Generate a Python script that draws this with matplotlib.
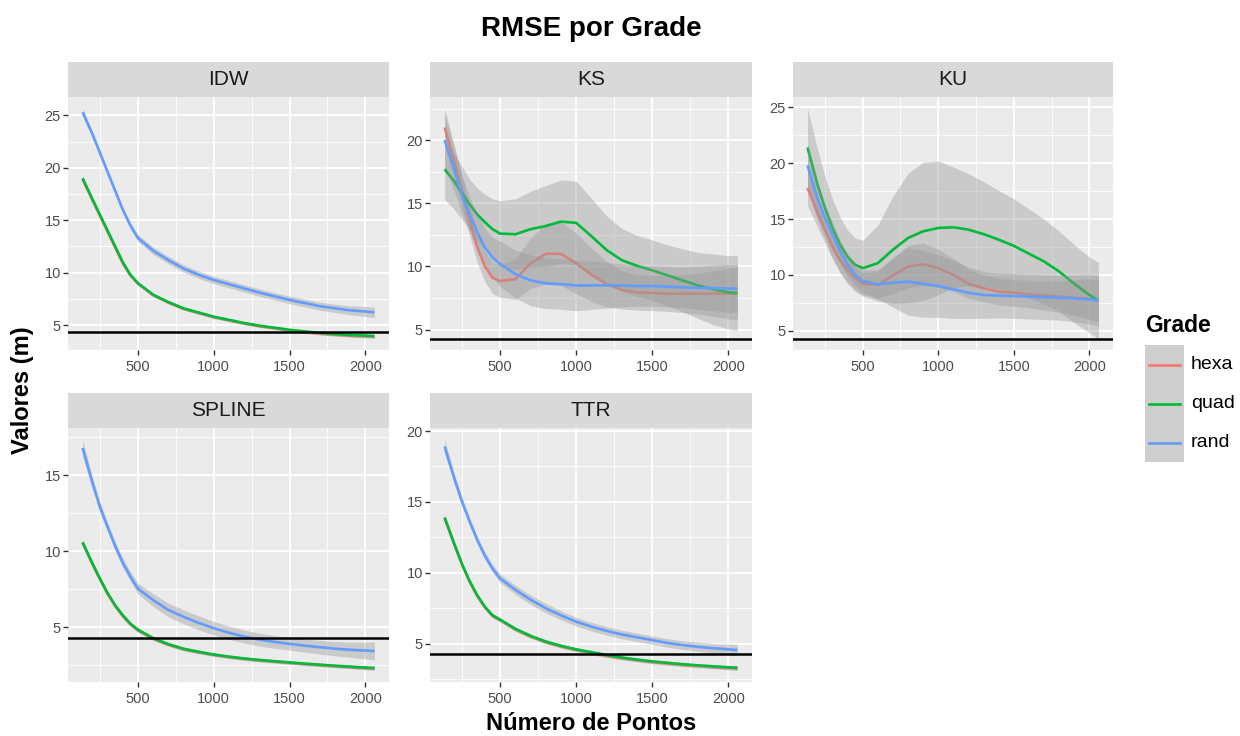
import matplotlib

matplotlib.use("Agg")
import matplotlib.pyplot as plt
from matplotlib.lines import Line2D
from matplotlib.patches import Rectangle
from matplotlib.ticker import MultipleLocator

plt.rcParams["font.family"] = ["Liberation Sans", "DejaVu Sans"]

# number of points (x) where the smoothed curves were read
n_points = [135, 200, 250, 300, 350, 400, 450, 500, 600, 700, 800, 900, 1000,
            1100, 1200, 1300, 1400, 1500, 1600, 1700, 1800, 1900, 2000, 2060]

grades = ["hexa", "quad", "rand"]
grade_colors = ["#F8766D", "#00BA38", "#619CFF"]
reference_rmse = 4.3

# IDW
idw_hexa = [18.9, 16.9, 15.4, 13.9, 12.4, 10.9, 9.75, 8.95, 7.85, 7.15, 6.55, 6.15,
            5.75, 5.45, 5.15, 4.9, 4.7, 4.5, 4.33, 4.18, 4.07, 3.98, 3.92, 3.88]
idw_quad = [19.0, 17.0, 15.5, 14.0, 12.5, 11.0, 9.8, 9.0, 7.9, 7.2, 6.6, 6.2,
            5.8, 5.5, 5.2, 4.95, 4.75, 4.55, 4.4, 4.25, 4.15, 4.05, 4.0, 3.95]
idw_rand = [25.3, 23.2, 21.4, 19.6, 17.8, 16.0, 14.5, 13.3, 12.1, 11.2, 10.4, 9.8,
            9.3, 8.9, 8.5, 8.1, 7.75, 7.4, 7.1, 6.8, 6.6, 6.4, 6.3, 6.2]
idw_hexa_se = [0.25, 0.2, 0.18, 0.16, 0.15, 0.14, 0.13, 0.12, 0.12, 0.12, 0.12, 0.12,
               0.12, 0.12, 0.12, 0.12, 0.12, 0.12, 0.12, 0.12, 0.13, 0.14, 0.15, 0.16]
idw_quad_se = [0.25, 0.2, 0.18, 0.16, 0.15, 0.14, 0.13, 0.12, 0.12, 0.12, 0.12, 0.12,
               0.12, 0.12, 0.12, 0.12, 0.12, 0.12, 0.12, 0.12, 0.13, 0.14, 0.15, 0.16]
idw_rand_se = [0.35, 0.3, 0.28, 0.26, 0.25, 0.25, 0.28, 0.32, 0.34, 0.35, 0.35, 0.35,
               0.35, 0.35, 0.35, 0.35, 0.35, 0.36, 0.37, 0.38, 0.4, 0.43, 0.47, 0.52]

# KS
ks_hexa = [21.0, 18.2, 15.9, 13.6, 11.5, 10.0, 9.1, 8.85, 9.0, 10.25, 11.0, 11.0,
           10.25, 9.35, 8.6, 8.15, 7.95, 7.9, 7.85, 7.85, 7.85, 7.85, 7.85, 7.85]
ks_quad = [17.7, 16.7, 15.8, 14.9, 14.1, 13.5, 12.95, 12.6, 12.55, 12.95, 13.2, 13.55,
           13.45, 12.4, 11.3, 10.5, 10.05, 9.7, 9.3, 8.9, 8.5, 8.2, 7.95, 7.9]
ks_rand = [20.0, 17.6, 15.6, 14.1, 12.7, 11.5, 10.7, 10.2, 9.4, 8.9, 8.67, 8.6,
           8.5, 8.5, 8.5, 8.5, 8.45, 8.45, 8.4, 8.35, 8.3, 8.3, 8.25, 8.25]
ks_hexa_se = [1.5, 1.3, 1.25, 1.2, 1.2, 1.2, 1.25, 1.3, 1.6, 2.0, 2.4, 2.5,
              2.4, 2.1, 1.8, 1.5, 1.4, 1.4, 1.4, 1.5, 1.6, 1.8, 2.0, 2.1]
ks_quad_se = [2.4, 2.2, 2.1, 2.0, 2.1, 2.2, 2.4, 2.6, 2.8, 3.0, 3.2, 3.3,
              3.3, 3.0, 2.7, 2.5, 2.4, 2.4, 2.4, 2.5, 2.6, 2.8, 2.9, 3.0]
ks_rand_se = [2.0, 1.7, 1.5, 1.4, 1.4, 1.5, 1.6, 1.8, 1.9, 2.0, 2.0, 2.0,
              2.0, 1.9, 1.8, 1.7, 1.6, 1.6, 1.6, 1.6, 1.7, 1.8, 1.9, 1.9]

# KU
ku_hexa = [17.8, 15.6, 14.05, 12.5, 11.3, 10.4, 9.7, 9.2, 9.1, 9.95, 10.75, 10.95,
           10.6, 10.0, 9.2, 8.8, 8.5, 8.4, 8.25, 8.15, 8.05, 7.95, 7.85, 7.7]
ku_quad = [21.4, 18.1, 16.0, 14.2, 12.7, 11.6, 10.9, 10.6, 11.05, 12.25, 13.3, 13.9,
           14.2, 14.26, 14.05, 13.65, 13.15, 12.6, 11.9, 11.2, 10.3, 9.2, 8.2, 7.7]
ku_rand = [19.8, 16.9, 15.1, 13.6, 12.1, 10.9, 10.0, 9.45, 9.15, 9.3, 9.4, 9.2,
           9.0, 8.7, 8.4, 8.2, 8.15, 8.1, 8.05, 8.0, 7.95, 7.9, 7.8, 7.7]
ku_hexa_se = [1.6, 1.3, 1.2, 1.1, 1.05, 1.0, 1.0, 1.0, 1.2, 1.6, 1.9, 1.9,
              1.7, 1.5, 1.3, 1.2, 1.2, 1.2, 1.2, 1.3, 1.4, 1.6, 1.8, 1.9]
ku_quad_se = [3.5, 3.2, 2.8, 2.6, 2.5, 2.4, 2.4, 2.5, 3.4, 4.8, 5.8, 6.2,
              6.0, 5.4, 5.0, 4.7, 4.4, 4.2, 4.0, 3.8, 3.6, 3.5, 3.4, 3.4]
ku_rand_se = [1.8, 1.4, 1.2, 1.1, 1.05, 1.0, 1.0, 1.0, 1.3, 2.2, 3.0, 3.0,
              2.8, 2.6, 2.3, 2.1, 2.0, 2.0, 2.0, 2.0, 2.0, 2.1, 2.2, 2.3]

# SPLINE
spline_hexa = [10.55, 9.15, 8.15, 7.2, 6.4, 5.75, 5.2, 4.8, 4.25, 3.86, 3.56, 3.36,
               3.19, 3.05, 2.93, 2.83, 2.75, 2.67, 2.59, 2.52, 2.45, 2.39, 2.33, 2.3]
spline_quad = [10.6, 9.2, 8.2, 7.25, 6.45, 5.8, 5.25, 4.85, 4.3, 3.9, 3.6, 3.4,
               3.22, 3.08, 2.96, 2.86, 2.78, 2.7, 2.62, 2.55, 2.48, 2.42, 2.36, 2.33]
spline_rand = [16.8, 14.5, 12.9, 11.6, 10.35, 9.25, 8.35, 7.55, 6.8, 6.15, 5.7, 5.3,
               4.95, 4.65, 4.4, 4.2, 4.05, 3.92, 3.8, 3.7, 3.6, 3.53, 3.48, 3.45]
spline_hexa_se = [0.15, 0.13, 0.12, 0.11, 0.1, 0.1, 0.1, 0.1, 0.1, 0.1, 0.1, 0.1,
                  0.1, 0.1, 0.1, 0.1, 0.1, 0.1, 0.1, 0.1, 0.1, 0.11, 0.12, 0.13]
spline_quad_se = [0.15, 0.13, 0.12, 0.11, 0.1, 0.1, 0.1, 0.1, 0.1, 0.1, 0.1, 0.1,
                  0.1, 0.1, 0.1, 0.1, 0.1, 0.1, 0.1, 0.1, 0.1, 0.11, 0.12, 0.13]
spline_rand_se = [0.55, 0.4, 0.32, 0.3, 0.3, 0.3, 0.32, 0.36, 0.42, 0.45, 0.46, 0.46,
                  0.45, 0.44, 0.43, 0.42, 0.42, 0.42, 0.43, 0.45, 0.47, 0.5, 0.55, 0.6]

# TTR
ttr_hexa = [13.85, 11.95, 10.55, 9.35, 8.35, 7.55, 6.95, 6.65, 6.0, 5.5, 5.1, 4.8,
            4.55, 4.34, 4.14, 3.97, 3.83, 3.7, 3.6, 3.5, 3.42, 3.35, 3.29, 3.26]
ttr_quad = [13.9, 12.0, 10.6, 9.4, 8.4, 7.6, 7.0, 6.7, 6.05, 5.55, 5.15, 4.85,
            4.6, 4.4, 4.2, 4.02, 3.88, 3.75, 3.65, 3.55, 3.47, 3.4, 3.33, 3.3]
ttr_rand = [18.9, 16.6, 15.0, 13.6, 12.3, 11.2, 10.3, 9.6, 8.8, 8.1, 7.5, 7.0,
            6.55, 6.2, 5.9, 5.65, 5.45, 5.25, 5.05, 4.9, 4.78, 4.68, 4.6, 4.55]
ttr_hexa_se = [0.18, 0.15, 0.13, 0.12, 0.12, 0.12, 0.12, 0.12, 0.12, 0.12, 0.12, 0.12,
               0.12, 0.12, 0.12, 0.12, 0.12, 0.12, 0.12, 0.12, 0.12, 0.13, 0.14, 0.15]
ttr_quad_se = [0.18, 0.15, 0.13, 0.12, 0.12, 0.12, 0.12, 0.12, 0.12, 0.12, 0.12, 0.12,
               0.12, 0.12, 0.12, 0.12, 0.12, 0.12, 0.12, 0.12, 0.12, 0.13, 0.14, 0.15]
ttr_rand_se = [0.5, 0.35, 0.3, 0.28, 0.27, 0.27, 0.28, 0.3, 0.32, 0.33, 0.33, 0.32,
               0.31, 0.3, 0.3, 0.3, 0.3, 0.3, 0.3, 0.31, 0.32, 0.34, 0.37, 0.4]

panels = [
    ("IDW", [idw_hexa, idw_quad, idw_rand], [idw_hexa_se, idw_quad_se, idw_rand_se]),
    ("KS", [ks_hexa, ks_quad, ks_rand], [ks_hexa_se, ks_quad_se, ks_rand_se]),
    ("KU", [ku_hexa, ku_quad, ku_rand], [ku_hexa_se, ku_quad_se, ku_rand_se]),
    ("SPLINE", [spline_hexa, spline_quad, spline_rand],
     [spline_hexa_se, spline_quad_se, spline_rand_se]),
    ("TTR", [ttr_hexa, ttr_quad, ttr_rand], [ttr_hexa_se, ttr_quad_se, ttr_rand_se]),
]

# layout in pixels of a 1240x736 canvas
W, H = 1240, 736
cols = [(68, 389), (430, 752), (793, 1113)]
rows = [(97, 350), (428, 682)]
strip_h = 35


def fig_box(x0, y0, x1, y1):
    return [x0 / W, 1 - y1 / H, (x1 - x0) / W, (y1 - y0) / H]


fig = plt.figure(figsize=(12.4, 7.36), dpi=100)

x_span = max(n_points) - min(n_points)
x_lim = (min(n_points) - 0.05 * x_span, max(n_points) + 0.05 * x_span)

for i, (name, means, ses) in enumerate(panels):
    x0, x1 = cols[i % 3]
    y0, y1 = rows[i // 3]
    ax = fig.add_axes(fig_box(x0, y0, x1, y1))
    ax.set_facecolor("#EBEBEB")
    for spine in ax.spines.values():
        spine.set_visible(False)

    lows, highs = [reference_rmse], [reference_rmse]
    for color, m, s in zip(grade_colors, means, ses):
        lower = [a - b for a, b in zip(m, s)]
        upper = [a + b for a, b in zip(m, s)]
        lows.append(min(lower))
        highs.append(max(upper))
        ax.fill_between(n_points, lower, upper, color="#999999", alpha=0.4, lw=0, zorder=2)
        ax.plot(n_points, m, color=color, lw=1.9, zorder=2, solid_capstyle="butt")
    ax.axhline(reference_rmse, color="black", lw=1.8, zorder=3)

    y_span = max(highs) - min(lows)
    ax.set_ylim(min(lows) - 0.05 * y_span, max(highs) + 0.05 * y_span)
    ax.set_xlim(*x_lim)

    ax.xaxis.set_major_locator(MultipleLocator(500))
    ax.xaxis.set_minor_locator(MultipleLocator(250))
    ax.yaxis.set_major_locator(MultipleLocator(5))
    ax.yaxis.set_minor_locator(MultipleLocator(2.5))
    ax.set_axisbelow(True)
    ax.grid(which="major", color="white", lw=1.3)
    ax.grid(which="minor", color="white", lw=0.6)
    ax.tick_params(which="major", length=3.6, width=1.0, color="#333333",
                   labelsize=10.5, labelcolor="#4D4D4D")
    ax.tick_params(axis="x", which="major", pad=3.5)
    ax.tick_params(axis="y", which="major", pad=1.5)
    ax.tick_params(which="minor", length=0)

    sax = fig.add_axes(fig_box(x0, y0 - strip_h, x1, y0))
    sax.set_facecolor("#D9D9D9")
    sax.set_xticks([])
    sax.set_yticks([])
    for spine in sax.spines.values():
        spine.set_visible(False)
    sax.text(0.5, 0.5, name, ha="center", va="center", fontsize=15, color="#1A1A1A",
             transform=sax.transAxes)

fig.text(591 / W, 1 - 29 / H, "RMSE por Grade", ha="center", va="center",
         fontsize=20, fontweight="bold")
fig.text(591 / W, 1 - 724 / H, "Número de Pontos", ha="center", va="center",
         fontsize=17, fontweight="bold")
fig.text(23 / W, 1 - 390 / H, "Valores (m)", ha="center", va="center", rotation=90,
         fontsize=17, fontweight="bold")

# legend drawn in a pixel-coordinate axes
lax = fig.add_axes([0, 0, 1, 1], facecolor="none")
lax.set_xlim(0, W)
lax.set_ylim(H, 0)
lax.axis("off")
lax.text(1145, 325, "Grade", ha="left", va="center", fontsize=16.5, fontweight="bold")
key = 39
key_top = 345
for j, (g, color) in enumerate(zip(grades, grade_colors)):
    top = key_top + j * key
    lax.add_patch(Rectangle((1145, top), key, key, facecolor="#F2F2F2", edgecolor="none"))
    lax.add_patch(Rectangle((1145, top), key, key, facecolor="#999999", alpha=0.4,
                            edgecolor="none"))
    lax.add_line(Line2D([1149, 1145 + key - 4], [top + key / 2, top + key / 2],
                        color=color, lw=1.9))
    lax.text(1145 + key + 7, top + key / 2, g, ha="left", va="center", fontsize=14)

fig.savefig("out.png", dpi=100)
